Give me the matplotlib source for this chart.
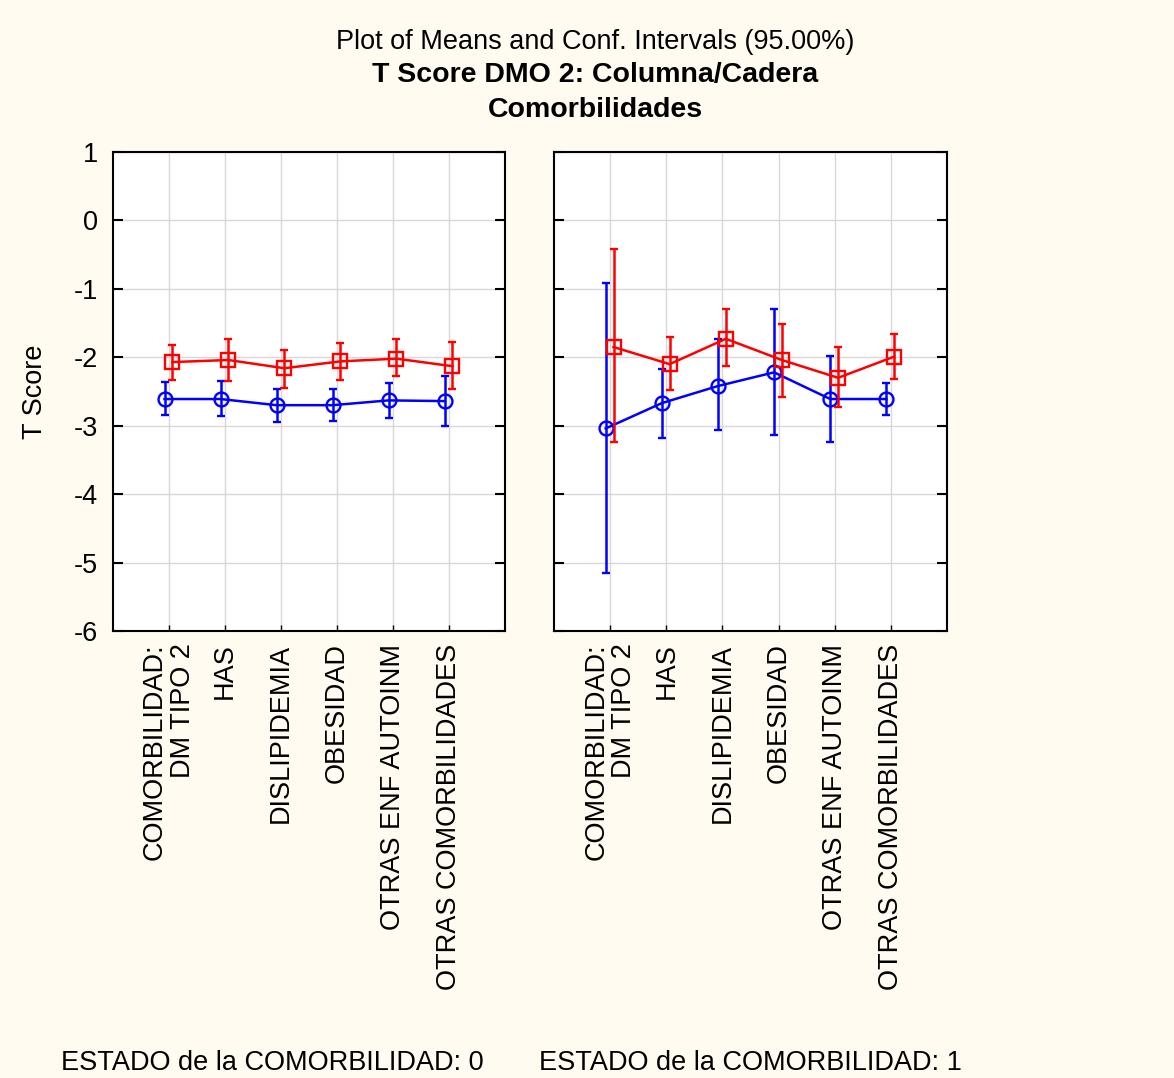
import matplotlib
matplotlib.use("Agg")
import matplotlib.pyplot as plt
import numpy as np

plt.rcParams['font.family'] = ['Liberation Sans', 'DejaVu Sans']
plt.rcParams['axes.unicode_minus'] = False

categories = ["COMORBILIDAD:\nDM TIPO 2", "HAS", "DISLIPIDEMIA", "OBESIDAD",
              "OTRAS ENF AUTOINM", "OTRAS COMORBILIDADES"]
panel_titles = ["ESTADO de la COMORBILIDAD: 0", "ESTADO de la COMORBILIDAD: 1"]

# Panel 0 (estado 0)
red0_mean = [-2.07, -2.04, -2.16, -2.06, -2.02, -2.13]
red0_hi   = [-1.82, -1.73, -1.89, -1.79, -1.73, -1.77]
red0_lo   = [-2.33, -2.35, -2.45, -2.33, -2.28, -2.46]
blue0_mean = [-2.61, -2.61, -2.70, -2.70, -2.63, -2.64]
blue0_hi   = [-2.36, -2.35, -2.46, -2.46, -2.38, -2.27]
blue0_lo   = [-2.84, -2.86, -2.94, -2.93, -2.89, -3.01]

# Panel 1 (estado 1)
red1_mean = [-1.85, -2.10, -1.73, -2.04, -2.30, -1.99]
red1_hi   = [-0.42, -1.70, -1.30, -1.51, -1.85, -1.66]
red1_lo   = [-3.24, -2.48, -2.13, -2.58, -2.72, -2.32]
blue1_mean = [-3.04, -2.67, -2.42, -2.22, -2.61, -2.61]
blue1_hi   = [-0.92, -2.17, -1.74, -1.30, -1.98, -2.38]
blue1_lo   = [-5.15, -3.18, -3.06, -3.13, -3.24, -2.85]

bg = '#FFFBF0'
fig = plt.figure(figsize=(11.74, 10.78), dpi=100, facecolor=bg)

W, H = 1174, 1078
def rect(x0, x1, ytop, ybot):
    return [x0 / W, 1 - ybot / H, (x1 - x0) / W, (ybot - ytop) / H]

ax0 = fig.add_axes(rect(113, 505, 152, 631))
ax1 = fig.add_axes(rect(554, 947, 152, 631))

data = [
    (red0_mean, red0_hi, red0_lo, blue0_mean, blue0_hi, blue0_lo),
    (red1_mean, red1_hi, red1_lo, blue1_mean, blue1_hi, blue1_lo),
]

x = np.arange(1, len(categories) + 1)
for i, (ax, d) in enumerate(zip([ax0, ax1], data)):
    rm, rh, rl, bm, bh, bl = [np.array(v) for v in d]
    ax.set_facecolor('white')
    ax.grid(True, color='#D8D8D8', linewidth=1.0, zorder=0)
    ax.set_axisbelow(True)
    xb = x - 0.08
    xr = x + 0.06
    ax.errorbar(xb, bm, yerr=[bm - bl, bh - bm], color='#0000FF', lw=1.8,
                marker='o', markersize=10, markerfacecolor='none',
                markeredgewidth=1.7, capsize=3, elinewidth=1.8, capthick=1.8, zorder=3)
    ax.errorbar(xr, rm, yerr=[rm - rl, rh - rm], color='#FF0000', lw=1.8,
                marker='s', markersize=10, markerfacecolor='none',
                markeredgewidth=1.7, capsize=3, elinewidth=1.8, capthick=1.8, zorder=4)
    ax.set_xlim(0, 7)
    ax.set_ylim(-6, 1)
    ax.set_yticks(range(-6, 2))
    ax.set_xticks(x)
    ax.set_xticklabels(categories, rotation=90, fontsize=19.5, va='top',
                       ha='center', multialignment='right', linespacing=1.1)
    ax.tick_params(axis='x', direction='in', length=4, width=1, pad=9,
                   top=False, bottom=True)
    ax.tick_params(axis='y', direction='in', length=7, width=1.5,
                   left=True, right=True, labelsize=19.5, pad=11)
    for s in ax.spines.values():
        s.set_linewidth(1.5)
        s.set_color('black')
    if i == 1:
        ax.set_yticklabels([])
    else:
        ax.set_ylabel('T Score', fontsize=19.5, labelpad=18)

fig.text(0.507, 1 - 42 / H, 'Plot of Means and Conf. Intervals (95.00%)',
         ha='center', va='center', fontsize=19.5)
fig.text(0.507, 1 - 75 / H, 'T Score DMO 2: Columna/Cadera',
         ha='center', va='center', fontsize=20.5, fontweight='bold')
fig.text(0.507, 1 - 110 / H, 'Comorbilidades',
         ha='center', va='center', fontsize=20.5, fontweight='bold')

fig.text(272 / W, 1 - 1063 / H, panel_titles[0], ha='center', va='center', fontsize=19.5)
fig.text(750 / W, 1 - 1063 / H, panel_titles[1], ha='center', va='center', fontsize=19.5)

fig.savefig('out.png', dpi=100, facecolor=bg)
